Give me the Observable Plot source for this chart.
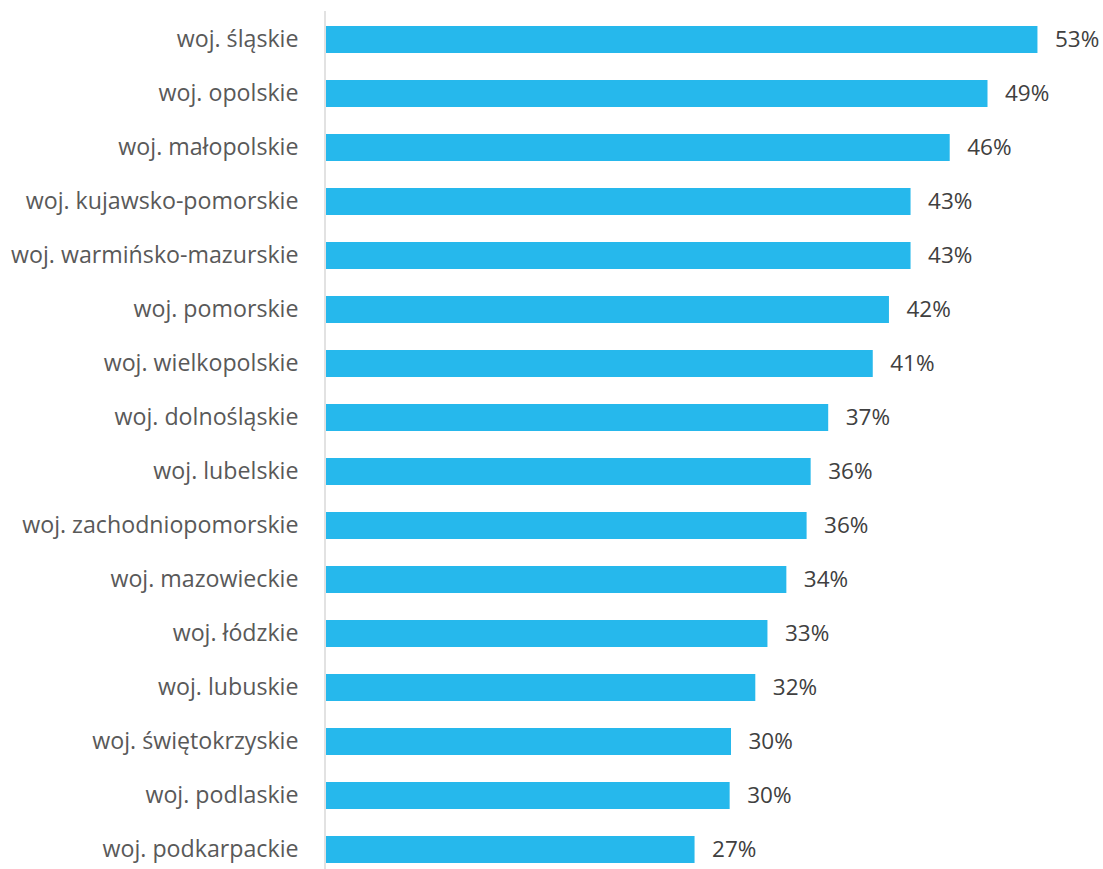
<!DOCTYPE html>
<html>
<head>
<meta charset="utf-8">
<script src="https://cdn.jsdelivr.net/npm/d3@7"></script>
<script src="https://cdn.jsdelivr.net/npm/@observablehq/plot@0.6"></script>
<style>
  html, body { margin: 0; padding: 0; background: #ffffff; }
  #chart svg { display: block; }
</style>
</head>
<body>
<div id="chart"></div>
<script>
const regions = [
  "woj. śląskie",
  "woj. opolskie",
  "woj. małopolskie",
  "woj. kujawsko-pomorskie",
  "woj. warmińsko-mazurskie",
  "woj. pomorskie",
  "woj. wielkopolskie",
  "woj. dolnośląskie",
  "woj. lubelskie",
  "woj. zachodniopomorskie",
  "woj. mazowieckie",
  "woj. łódzkie",
  "woj. lubuskie",
  "woj. świętokrzyskie",
  "woj. podlaskie",
  "woj. podkarpackie"
];
const shares = [52.7, 49.0, 46.2, 43.3, 43.3, 41.7, 40.5, 37.2, 35.9, 35.6, 34.1, 32.7, 31.8, 30.0, 29.9, 27.3];

const data = regions.map((r, i) => ({region: r, value: shares[i]}));
const fmt = v => d3.format(".0f")(v) + "%";
const font = "'Open Sans', 'Noto Sans', sans-serif";

const chart = Plot.plot({
  width: 1103,
  height: 869,
  marginLeft: 326,
  marginRight: 0,
  marginTop: 11,
  marginBottom: 0,
  style: {fontFamily: font, background: "#ffffff"},
  x: {domain: [0, 60], range: [326, 326 + 810], axis: null},
  y: {domain: regions, range: [11, 877], paddingInner: 0.5, paddingOuter: 0.25, align: 0.5, axis: null},
  marks: [
    Plot.barX(data, {x: "value", y: "region", fill: "#26B8EC"}),
    Plot.ruleX([0], {stroke: "#d9d9d9", strokeWidth: 1.5, dx: -1.5}),
    Plot.axisY({tickSize: 0, tickPadding: 28, fontSize: 23.2, color: "#595959", textAnchor: "end", label: null}),
    Plot.text(data, {x: "value", y: "region", text: d => fmt(d.value), dx: 17, textAnchor: "start", fontSize: 22.5, fill: "#404040"})
  ]
});
document.getElementById("chart").appendChild(chart);
</script>
</body>
</html>
